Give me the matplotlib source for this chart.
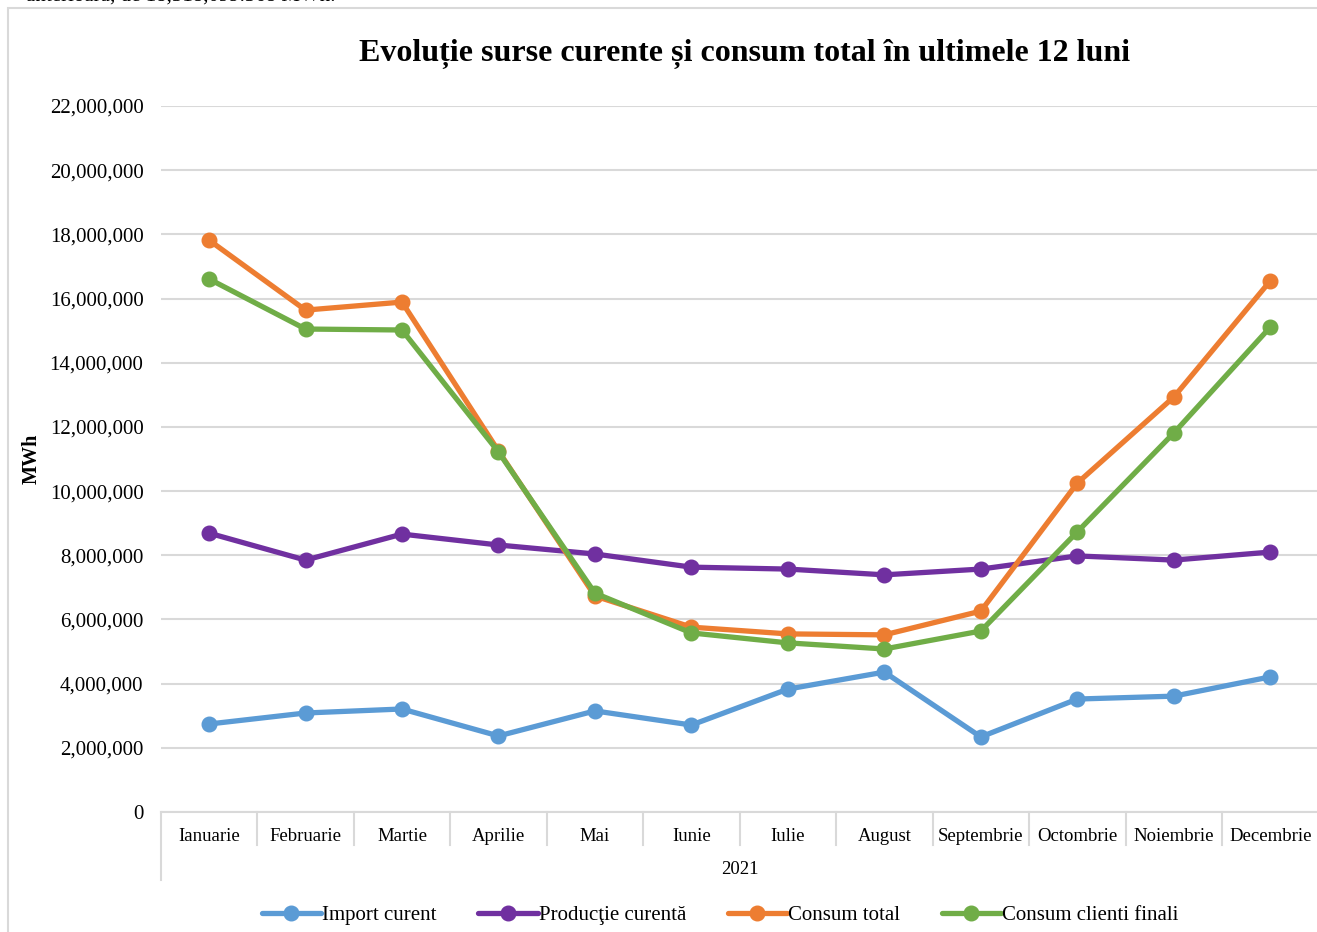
import matplotlib.pyplot as plt
import matplotlib.transforms as mtransforms
from matplotlib.patches import Rectangle
from matplotlib.ticker import FuncFormatter

luni = ['Ianuarie', 'Februarie', 'Martie', 'Aprilie', 'Mai', 'Iunie',
        'Iulie', 'August', 'Septembrie', 'Octombrie', 'Noiembrie', 'Decembrie']
an = '2021'

import_curent = [2742000, 3085000, 3210000, 2370000, 3150000, 2710000,
                 3830000, 4360000, 2340000, 3520000, 3610000, 4210000]
productie_curenta = [8690000, 7850000, 8660000, 8320000, 8040000, 7630000,
                     7570000, 7390000, 7570000, 7980000, 7850000, 8100000]
consum_total = [17820000, 15640000, 15890000, 11250000, 6730000, 5760000,
                5550000, 5520000, 6260000, 10250000, 12930000, 16550000]
consum_clienti = [16610000, 15050000, 15020000, 11220000, 6820000, 5580000,
                  5270000, 5080000, 5640000, 8730000, 11810000, 15110000]

serii = [
    ('Import curent', import_curent, '#5B9BD5'),
    ('Producţie curentă', productie_curenta, '#7030A0'),
    ('Consum total', consum_total, '#ED7D31'),
    ('Consum clienti finali', consum_clienti, '#70AD47'),
]

plt.rcParams['font.family'] = ['Liberation Serif', 'DejaVu Serif']

W, H = 1317, 932
fig = plt.figure(figsize=(W / 100, H / 100), dpi=100)

# chart border (cropped at right/bottom)
fig.patches.append(Rectangle((8 / W, -0.01), 1.05, (H - 8) / H + 0.01,
                             transform=fig.transFigure, fill=False,
                             edgecolor='#D9D9D9', lw=1.5))

# cut-off line of text above the chart
fig.text(0.02, 1.0 + 4 / H, 'anterioară, de 18,318,099.368 MWh.', fontsize=15,
         va='center', ha='left')

x0, x1 = 160.8, 1318.5
y0, y1 = 812, 106
ax = fig.add_axes([x0 / W, (H - y0) / H, (x1 - x0) / W, (y0 - y1) / H])

x = list(range(len(luni)))
for nume, vals, cul in serii:
    ax.plot(x, vals, color=cul, lw=3.8, marker='o', markersize=10.5,
            label=nume, solid_capstyle='round', solid_joinstyle='round')

ax.set_xlim(-0.5, 11.5)
ax.set_ylim(0, 22000000)
ax.set_yticks(range(0, 22000001, 2000000))
ax.yaxis.set_major_formatter(FuncFormatter(lambda v, p: f'{int(v):,}'))
ax.grid(axis='y', color='#D9D9D9', lw=1.5)
ax.set_axisbelow(True)
for s in ['top', 'right', 'left']:
    ax.spines[s].set_visible(False)
ax.spines['bottom'].set_color('#D9D9D9')
ax.spines['bottom'].set_linewidth(1.5)
ax.tick_params(axis='y', length=0, labelsize=15, pad=12.5)
ax.set_xticks(x, luni)
ax.tick_params(axis='x', length=0, labelsize=13.5, pad=11.5)

# category separators
hpx = y0 - y1
tr = mtransforms.blended_transform_factory(ax.transData, ax.transAxes)
for i in range(13):
    xs = i - 0.5
    low = -68 / hpx if i == 0 else -33 / hpx
    ax.plot([xs, xs], [0, low], color='#D9D9D9', lw=1.5, transform=tr,
            clip_on=False)
ax.text(5.5, -58 / hpx, an, transform=tr, ha='center', va='center',
        fontsize=13.5)

ax.set_ylabel('MWh', fontsize=14.5, fontweight='bold', labelpad=6)

fig.text(745 / W, (H - 54) / H,
         'Evoluție surse curente și consum total în ultimele 12 luni',
         ha='center', va='center', fontsize=23, fontweight='bold')

fig.legend(loc='center', bbox_to_anchor=(720 / W, (H - 915) / H), ncol=4,
           frameon=False, fontsize=15, handlelength=2.85, handletextpad=0.05,
           columnspacing=2.0)

fig.savefig('out.png', dpi=100)
